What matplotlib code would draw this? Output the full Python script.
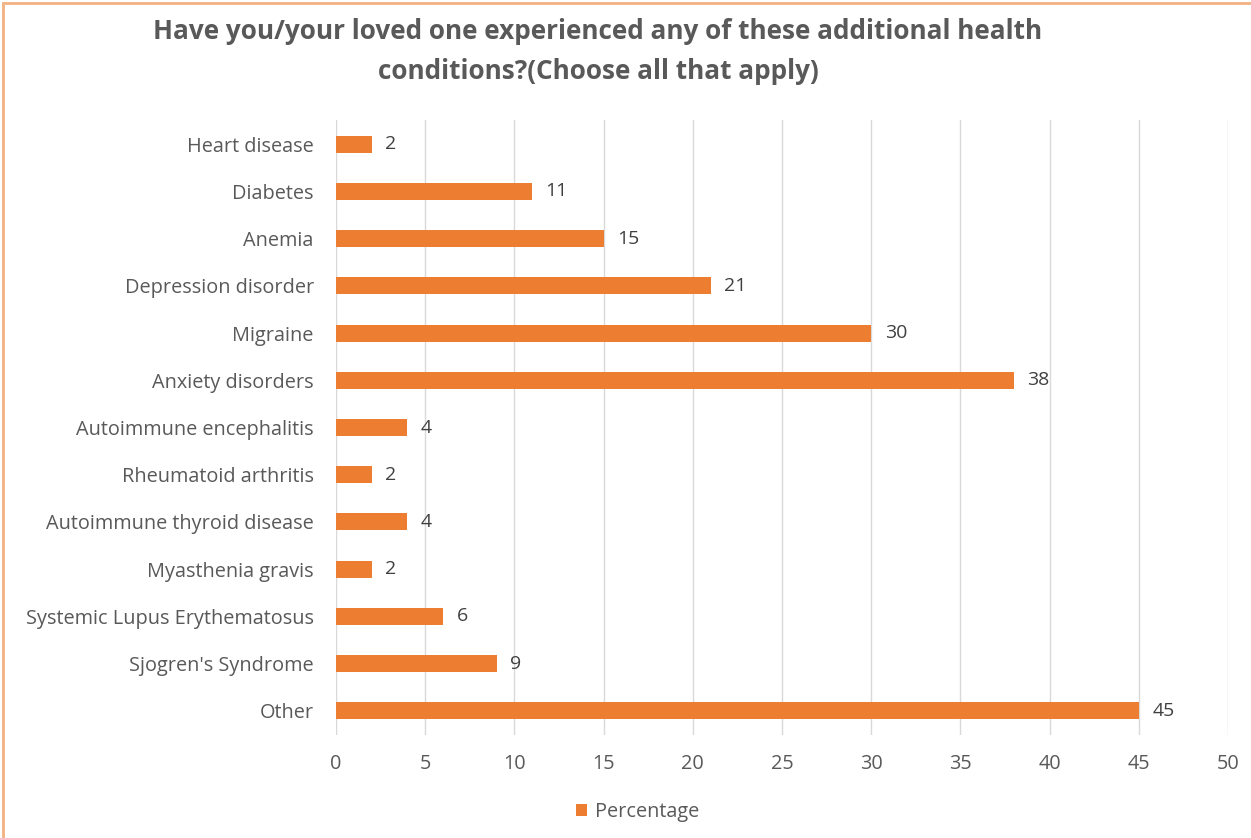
import matplotlib.pyplot as plt
from matplotlib.patches import Rectangle

# health conditions, top to bottom as listed
conditions = ["Heart disease", "Diabetes", "Anemia", "Depression disorder", "Migraine",
              "Anxiety disorders", "Autoimmune encephalitis", "Rheumatoid arthritis",
              "Autoimmune thyroid disease", "Myasthenia gravis",
              "Systemic Lupus Erythematosus", "Sjogren's Syndrome", "Other"]
percentage = [2, 11, 15, 21, 30, 38, 4, 2, 4, 2, 6, 9, 45]
xticks = [0, 5, 10, 15, 20, 25, 30, 35, 40, 45, 50]

orange = "#ED7D31"
grey = "#595959"
plt.rcParams['font.family'] = ['Open Sans', 'DejaVu Sans']

fig = plt.figure(figsize=(12.51, 8.38), dpi=100)
ax = fig.add_axes([0.2686, 0.1234, 0.7130, 0.7329])

pos = list(range(len(conditions)))
ax.barh(pos, percentage, height=0.36, color=orange, zorder=3, label="Percentage")
for p, v in zip(pos, percentage):
    ax.text(v + 0.75, p, str(v), va="center", ha="left", fontsize=14, color="#404040")

ax.set_ylim(len(conditions) - 0.5, -0.5)
ax.set_xlim(0, 50)
ax.set_yticks(pos)
ax.set_yticklabels(conditions, fontsize=14.3, color=grey)
ax.set_xticks(xticks)
ax.set_xticklabels([str(t) for t in xticks], fontsize=14.3, color=grey)
ax.tick_params(length=0)
ax.tick_params(axis="y", pad=16)
ax.tick_params(axis="x", pad=14)
ax.grid(axis="x", color="#d9d9d9", linewidth=1, zorder=0)
for s in ax.spines.values():
    s.set_visible(False)

fig.text(0.478, 0.978, "Have you/your loved one experienced any of these additional health\nconditions?(Choose all that apply)",
         ha="center", va="top", fontsize=18.8, fontweight="bold", color=grey, linespacing=1.6)

leg = fig.legend(loc="center", bbox_to_anchor=(0.51, 0.031), frameon=False, fontsize=14.3,
                 handlelength=0.55, handleheight=0.55, handletextpad=0.4)
for t in leg.get_texts():
    t.set_color(grey)

# outer frame
fig.patches.append(Rectangle((0.002, -0.01), 1.05, 1.006, transform=fig.transFigure,
                             fill=False, edgecolor="#F4B183", linewidth=2))

fig.savefig("out.png", dpi=100)
